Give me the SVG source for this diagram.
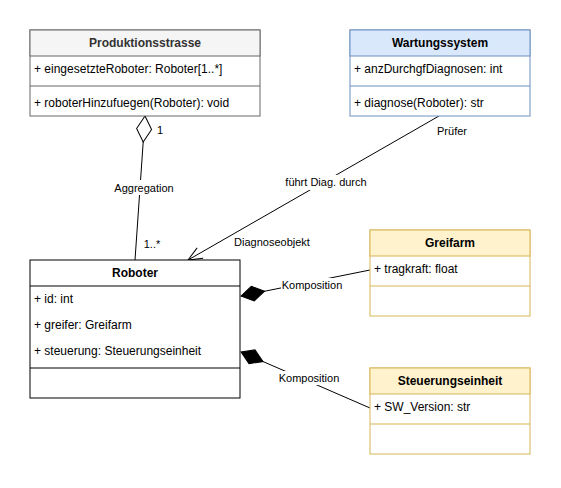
<svg xmlns="http://www.w3.org/2000/svg" width="561" height="488" viewBox="0 0 561 488">
<style>
text{font-family:"Liberation Sans",Arial,Helvetica,sans-serif;font-size:12px;fill:#000}
.h{font-weight:bold;text-anchor:middle}
.lbl{font-size:11px;text-anchor:middle}
.gray rect,.gray line{stroke:#666666}
.blue rect,.blue line{stroke:#6c8ebf}
.yel rect,.yel line{stroke:#d6b656}
.blk rect,.blk line{stroke:#000}
rect{stroke-width:1}
.edge{stroke:#000;stroke-width:1;fill:none}
</style>
<defs>
<marker id="dfill" viewBox="-1 -9 28 18" refX="0" refY="0" markerWidth="28" markerHeight="18" markerUnits="userSpaceOnUse" orient="auto">
<path d="M0,0 L12,-7.5 L24,0 L12,7.5 Z" fill="#000" stroke="#000"/>
</marker>
<marker id="dhollow" viewBox="-1 -9 28 18" refX="0" refY="0" markerWidth="28" markerHeight="18" markerUnits="userSpaceOnUse" orient="auto">
<path d="M0,0 L13,-7.5 L26,0 L13,7.5 Z" fill="#fff" stroke="#000"/>
</marker>
<marker id="open" viewBox="-16 -8 18 16" refX="0" refY="0" markerWidth="18" markerHeight="16" markerUnits="userSpaceOnUse" orient="auto">
<path d="M-14,-6 L0,0 L-14,6" fill="none" stroke="#000"/>
</marker>
</defs>
<rect width="561" height="488" fill="#fff"/>

<g id="connectors">
<path class="edge" d="M145,116 L135,260" marker-start="url(#dhollow)"/>
<path class="edge" d="M439,116 L188,260" marker-end="url(#open)"/>
<path class="edge" d="M241,296 L370,270" marker-start="url(#dfill)"/>
<path class="edge" d="M241,352 L370,408" marker-start="url(#dfill)"/>
<rect x="113" y="180" width="62" height="15" fill="#fff"/>
<text class="lbl" x="144" y="192">Aggregation</text>
<text class="lbl" x="160" y="134">1</text>
<text class="lbl" x="152" y="248">1..*</text>
<rect x="284" y="175" width="84" height="15" fill="#fff"/>
<text class="lbl" x="326" y="186">führt Diag. durch</text>
<text class="lbl" x="452" y="135">Prüfer</text>
<text class="lbl" x="272" y="246">Diagnoseobjekt</text>
<rect x="281" y="278" width="62" height="14" fill="#fff"/>
<text class="lbl" x="312" y="289">Komposition</text>
<rect x="278" y="371" width="62" height="14" fill="#fff"/>
<text class="lbl" x="309" y="382">Komposition</text>
</g>

<g id="Produktionsstrasse" class="gray">
<rect x="30" y="30" width="230" height="86" fill="#fff"/>
<rect x="30" y="30" width="230" height="26" fill="#f5f5f5"/>
<line x1="30" y1="86" x2="260" y2="86"/>
<text class="h" x="145" y="47" style="fill:#333333">Produktionsstrasse</text>
<text x="34" y="73">+ eingesetzteRoboter: Roboter[1..*]</text>
<text x="34" y="107">+ roboterHinzufuegen(Roboter): void</text>
</g>

<g id="Wartungssystem" class="blue">
<rect x="350" y="30" width="180" height="86" fill="#fff"/>
<rect x="350" y="30" width="180" height="26" fill="#dae8fc"/>
<line x1="350" y1="86" x2="530" y2="86"/>
<text class="h" x="440" y="47">Wartungssystem</text>
<text x="354" y="73">+ anzDurchgfDiagnosen: int</text>
<text x="354" y="107">+ diagnose(Roboter): str</text>
</g>

<g id="Roboter" class="blk">
<rect x="30" y="260" width="210" height="138" fill="#fff"/>
<line x1="30" y1="286" x2="240" y2="286"/>
<line x1="30" y1="368" x2="240" y2="368"/>
<text class="h" x="135" y="277">Roboter</text>
<text x="34" y="303">+ id: int</text>
<text x="34" y="329">+ greifer: Greifarm</text>
<text x="34" y="355">+ steuerung: Steuerungseinheit</text>
</g>

<g id="Greifarm" class="yel">
<rect x="370" y="230" width="160" height="86" fill="#fff"/>
<rect x="370" y="230" width="160" height="26" fill="#fff2cc"/>
<line x1="370" y1="286" x2="530" y2="286"/>
<text class="h" x="450" y="247">Greifarm</text>
<text x="374" y="273">+ tragkraft: float</text>
</g>

<g id="Steuerungseinheit" class="yel">
<rect x="370" y="368" width="160" height="86" fill="#fff"/>
<rect x="370" y="368" width="160" height="26" fill="#fff2cc"/>
<line x1="370" y1="424" x2="530" y2="424"/>
<text class="h" x="450" y="385">Steuerungseinheit</text>
<text x="374" y="411">+ SW_Version: str</text>
</g>
</svg>
